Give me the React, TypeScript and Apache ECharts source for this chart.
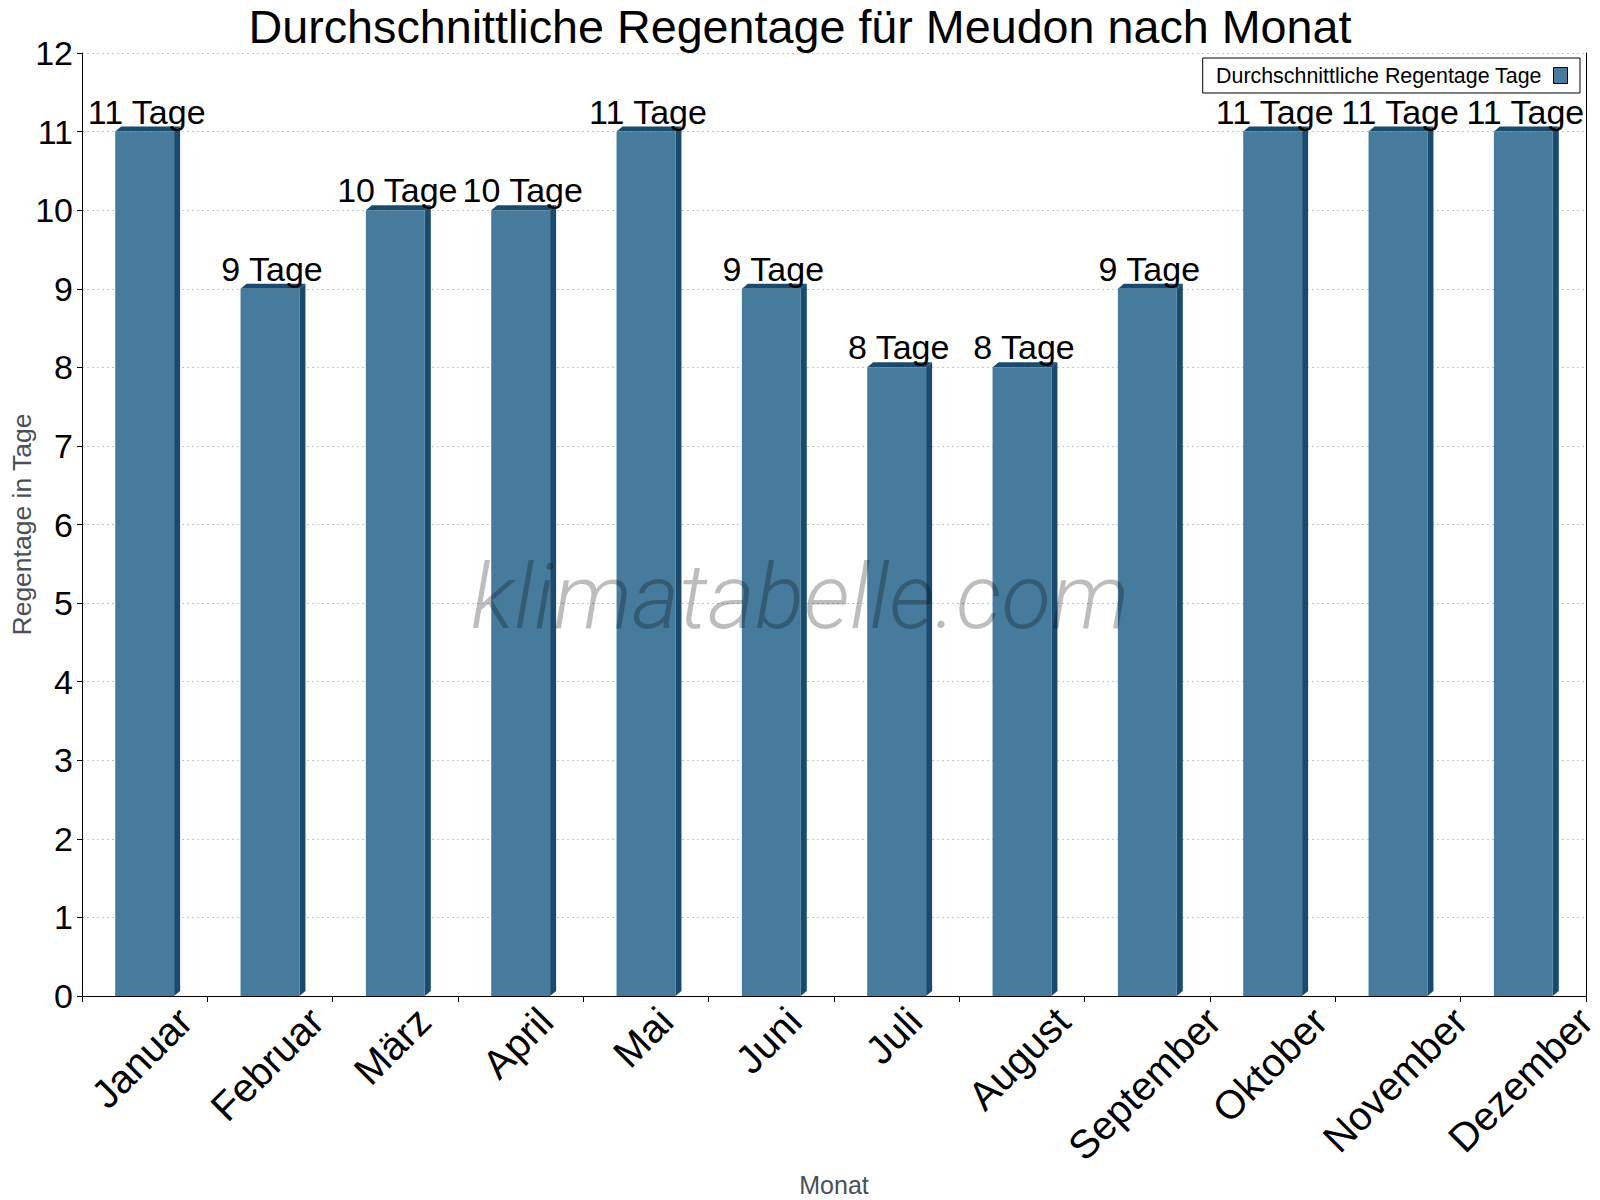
import React, { useEffect, useRef } from "react";
import * as echarts from "echarts";

const months = ["Januar", "Februar", "März", "April", "Mai", "Juni", "Juli", "August", "September", "Oktober", "November", "Dezember"];
const rainDays = [11, 9, 10, 10, 11, 9, 8, 8, 9, 11, 11, 11];
const seriesName = "Durchschnittliche Regentage Tage";
const titleText = "Durchschnittliche Regentage für Meudon nach Monat";
const yMin = 0;
const yMax = 12;
const yInterval = 1;

const FRONT = "#467b9d";
const DARK = "#1b4b6c";
const FONT = "'Liberation Sans', Arial, sans-serif";
const XLABEL_SIZE = 40;

let measureCtx: CanvasRenderingContext2D | null = null;
function textWidth(t: string, size: number) {
  if (!measureCtx) measureCtx = document.createElement("canvas").getContext("2d");
  if (!measureCtx) return t.length * size * 0.55;
  measureCtx.font = `${size}px 'Liberation Sans', Arial, sans-serif`;
  return measureCtx.measureText(t).width;
}

export default function App() {
  const ref = useRef<HTMLDivElement>(null);
  useEffect(() => {
    const chart = echarts.init(ref.current!, null, { renderer: "svg" });
    const data = rainDays.map((v, i) => [i, v]);
    chart.setOption({
      animation: false,
      backgroundColor: "#fff",
      title: {
        text: titleText,
        left: "center",
        top: 4,
        padding: 0,
        textStyle: { fontFamily: FONT, fontSize: 46.7, lineHeight: 46, fontWeight: "normal", color: "#000" },
      },
      legend: {
        right: 20,
        top: 58,
        align: "right",
        padding: [7, 12, 7, 13],
        borderColor: "#000",
        borderWidth: 1,
        itemWidth: 14,
        itemHeight: 16,
        textStyle: { fontFamily: FONT, fontSize: 21.4, color: "#000", padding: [0, 7, 0, 0] },
        data: [{ name: seriesName, icon: "rect", itemStyle: { color: FRONT, borderColor: "#000", borderWidth: 1 } }],
      },
      grid: { left: 82, right: 14, top: 53, bottom: 204, containLabel: false, outerBoundsMode: "none" },
      xAxis: {
        type: "category",
        data: months,
        name: "Monat",
        nameLocation: "middle",
        nameGap: 176,
        nameMoveOverlap: false,
        nameTextStyle: { fontFamily: FONT, fontSize: 25, color: "#4a4f55" },
        axisLine: { lineStyle: { color: "#000", width: 1 } },
        axisTick: { show: true, length: 6, lineStyle: { color: "#000" } },
        axisLabel: { show: false },
        splitLine: { show: false },
      },
      yAxis: [
        {
          type: "value",
          min: yMin,
          max: yMax,
          interval: yInterval,
          name: "Regentage in Tage",
          nameLocation: "middle",
          nameGap: 47,
          nameMoveOverlap: false,
          nameTextStyle: { fontFamily: FONT, fontSize: 26.5, color: "#4a4f55" },
          axisLine: { show: true, lineStyle: { color: "#000", width: 1 } },
          axisTick: { show: true, length: 5, lineStyle: { color: "#000" } },
          axisLabel: { fontFamily: FONT, fontSize: 34, color: "#000", margin: 9 },
          splitLine: { show: true, lineStyle: { color: "#c8c8c8", type: [2, 3], width: 1 } },
        },
        {
          type: "value",
          min: yMin,
          max: yMax,
          interval: yInterval,
          position: "right",
          axisLine: { show: true, lineStyle: { color: "#000", width: 1 } },
          axisTick: { show: false },
          axisLabel: { show: false },
          splitLine: { show: false },
        },
      ],
      graphic: [
        {
          type: "text",
          left: "center",
          top: 551,
          z: 100,
          style: {
            text: "klimatabelle.com",
            fontFamily: "Roboto, 'Open Sans', sans-serif",
            fontStyle: "italic",
            fontWeight: 300,
            fontSize: 91,
            fill: "rgba(0,0,0,0.26)",
          },
        },
      ],
      series: [
        {
          type: "custom",
          name: seriesName,
          yAxisIndex: 0,
          clip: false,
          itemStyle: { color: FRONT },
          data,
          renderItem: (params: any, api: any) => {
            const xi = api.value(0);
            const v = api.value(1);
            const top = api.coord([xi, v]);
            const base = api.coord([xi, 0]);
            const bw = api.size([1, 0])[0] * 0.47;
            const x0 = top[0] - bw / 2;
            const x1 = top[0] + bw / 2;
            const yt = top[1];
            const yb = base[1];
            const d = 6;
            const dy = 5;
            const label = months[xi];
            const L = textWidth(label, XLABEL_SIZE);
            const lcx = base[0] - 3;
            const lcy = yb + 18.4 + 0.354 * L;
            return {
              type: "group",
              children: [
                { type: "polygon", shape: { points: [[x1, yt], [x1 + d, yt - dy], [x1 + d, yb - dy], [x1, yb]] }, style: { fill: DARK } },
                { type: "polygon", shape: { points: [[x0, yt], [x0 + d, yt - dy], [x1 + d, yt - dy], [x1, yt]] }, style: { fill: DARK } },
                { type: "rect", shape: { x: x0, y: yt, width: bw, height: yb - yt }, style: { fill: FRONT } },
                {
                  type: "text",
                  x: top[0] + 2,
                  y: yt - 3,
                  style: { text: v + " Tage", fontFamily: FONT, fontSize: 34, fill: "#000", align: "center", verticalAlign: "bottom" },
                },
                {
                  type: "text",
                  x: lcx,
                  y: lcy,
                  rotation: Math.PI / 4,
                  style: { text: label, fontFamily: FONT, fontSize: XLABEL_SIZE, fill: "#000", align: "center", verticalAlign: "middle" },
                },
              ],
            };
          },
        },
      ],
    });
    return () => chart.dispose();
  }, []);
  return <div ref={ref} style={{ width: 1600, height: 1200, position: "absolute", left: 0, top: 0 }} />;
}
